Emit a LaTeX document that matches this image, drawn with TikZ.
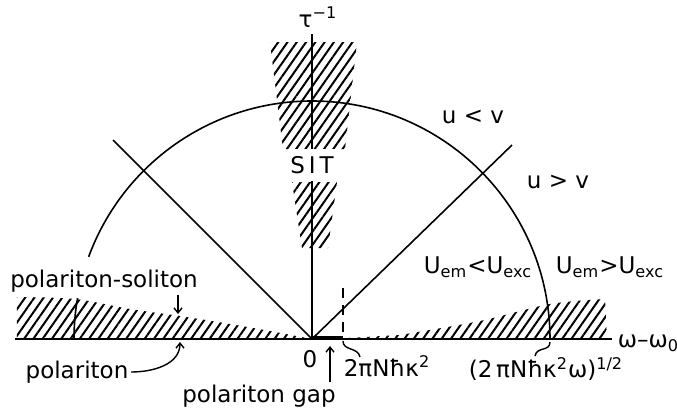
\documentclass[tikz,border=0pt]{standalone}
\usepackage{fontspec}
\setmainfont{DejaVu Sans}
\usetikzlibrary{arrows.meta,patterns.meta}

\begin{document}
\begin{tikzpicture}[
  x=0.5pt,y=-0.5pt,
  font=\fontsize{11.5}{13}\selectfont,
  line width=0.8pt,
  hatch/.style={pattern={Lines[angle=55,distance=3.8pt,line width=1pt]}},
  axis/.style={line width=1.1pt},
  lbl/.style={inner sep=1pt},
  arr/.style={-{Straight Barb[length=2.5pt,width=4pt]},line width=0.7pt}
]
\useasboundingbox (0,0) rectangle (677,413);
\coordinate (O) at (312,339);

% hatched regions
\path[hatch] (270,42) -- (357,42) -- (345,149) -- (283,149) -- cycle;
\path[hatch] (292,182) -- (337,182) -- (328,248) -- (302,248) -- cycle;
\path[hatch] (17,339) -- plot[smooth] coordinates {(17,297) (75,299) (130,309) (180,316) (230,324) (270,331) (312,339)} -- cycle;
\path[hatch] (330,339) -- plot[smooth] coordinates {(400,335) (480,321) (550,304) (605,299)} -- (607,339) -- cycle;

% axes, circle, diagonals
\draw[axis] (O) -- (312,34) coordinate (ytop);
\draw[axis] (15,339) -- (612,339) coordinate (xend);
\draw (550,339) arc[start angle=0,end angle=159.8,radius=119pt];
\draw (O) ++(170.1:119pt) arc[start angle=170.1,end angle=180,radius=119pt];
\draw (O) -- (113,140);
\draw (O) -- (512,145);
\draw[line width=2pt] (312,337.5) -- (343,337.5);
\draw[dash pattern=on 5pt off 3.5pt] (343,288) -- (343,339);

% labels
\node[lbl] (tau) at (318,17) {τ\textsuperscript{−1}};
\node[lbl,fill=white,minimum height=16pt] (sit) at (312,165) {S\kern2pt I\kern2pt T};
\node[lbl] (ulv) at (473,117) {u < v};
\node[lbl] (ugv) at (558,182) {u > v};
\node[lbl] (elt) at (478,267) {U\textsubscript{em}<U\textsubscript{exc}};
\node[lbl] (egt) at (610,267) {U\textsubscript{em}>U\textsubscript{exc}};
\node[lbl,anchor=west] (omg) at (615,343) {ω–ω\textsubscript{0}};
\node[lbl] (zero) at (310,359) {0};
\node[lbl,anchor=west] (kap) at (341,366) {2πNħκ\textsuperscript{2}};
\node[lbl] (root) at (546,369) {(2\,πNħκ\textsuperscript{2}ω)\textsuperscript{1/2}};
\node[lbl] (pol) at (77,372) {polariton};
\node[lbl] (gap) at (259,396) {polariton gap};
\node[lbl] (sol) at (104,281) {polariton-soliton};

% connectors
\coordinate (solt) at (178,314);
\coordinate (polt) at (180,342);
\coordinate (gapt) at (330,346);
\coordinate (k1) at (343,341);
\coordinate (k2) at (550,342);
\draw[arr] (sol.south -| solt) -- (solt);
\draw[arr] (pol.east) to[out=0,in=-90] (polt);
\draw[arr] (gap.north -| gapt) -- (gapt);
\draw[line width=0.7pt] (k1) .. controls +(0,10) and +(-2,-10) .. (360,357);
\draw[line width=0.7pt] (k2) .. controls +(0,10) and +(2,-10) .. (535,356);
\end{tikzpicture}
\end{document}
